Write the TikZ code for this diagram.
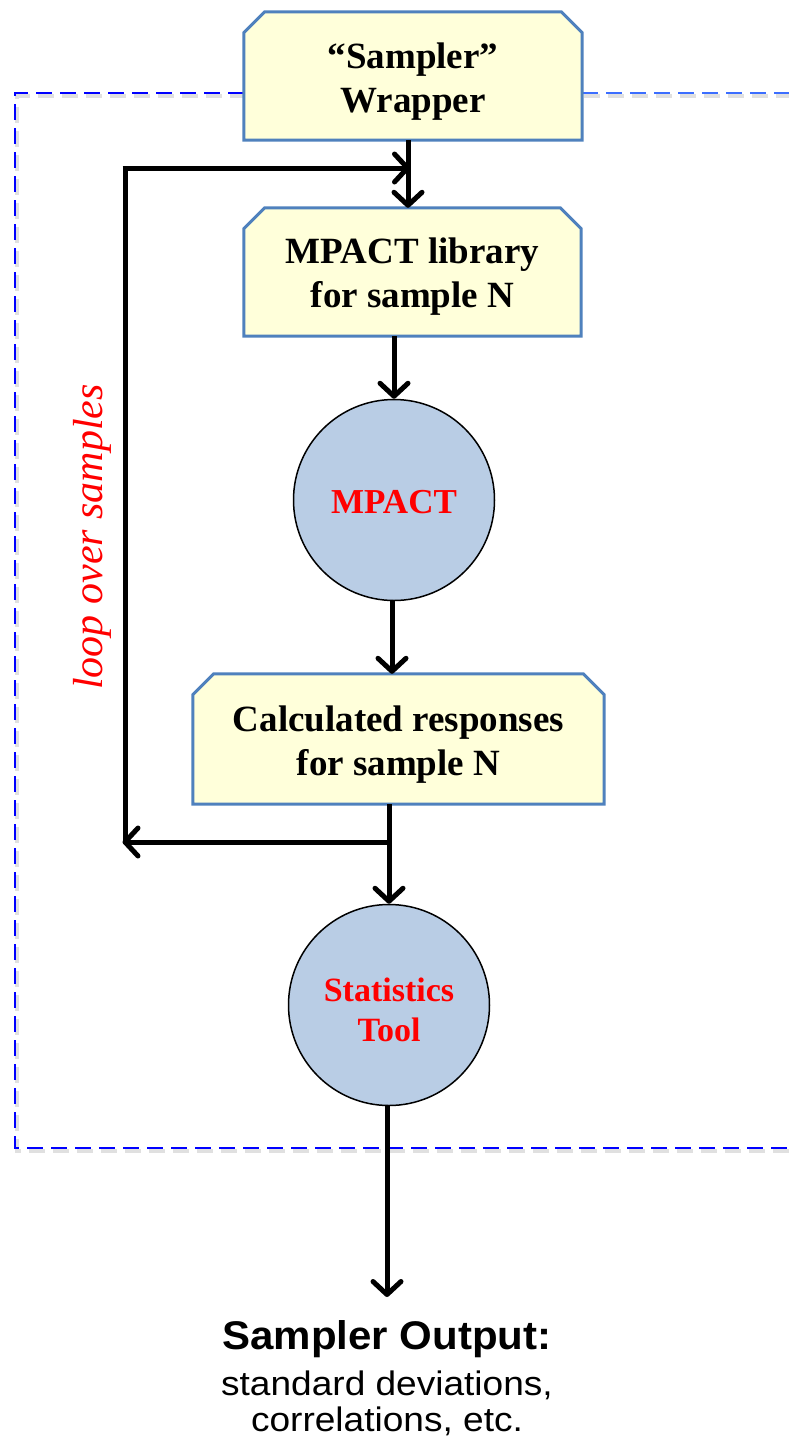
\documentclass[tikz,border=0pt]{standalone}
\usepackage{fontspec}
\setmainfont{Liberation Serif}
\newfontfamily\sansf{Liberation Sans}
\usetikzlibrary{arrows.meta,calc,backgrounds}
\definecolor{boxfill}{RGB}{255,255,218}
\definecolor{boxline}{RGB}{79,129,189}
\definecolor{circfill}{RGB}{185,205,229}
\definecolor{frameblue}{RGB}{0,0,255}
\definecolor{frameblue2}{RGB}{60,110,255}
\tikzset{
  boxshape/.style={inner sep=0pt},
  boxtext/.style={inner sep=0pt, align=center, font=\fontsize{37}{44}\selectfont\bfseries},
  chamf/.style={draw=boxline, fill=boxfill, line width=3pt, line join=miter},
  circ/.style={circle, draw=black, line width=1.5pt, fill=circfill, minimum size=201pt, inner sep=0pt},
  circtext/.style={inner sep=0pt, align=center, text=red, font=\fontsize{35}{40}\selectfont\bfseries},
  flow/.style={line width=5pt, draw=black},
  arr/.style={flow, -{Straight Barb[length=13pt,width=28pt,round]}},
  frame/.style={draw=frameblue, line width=2.5pt, dash pattern=on 16pt off 8pt},
  frameshadow/.style={draw=black!12, line width=3.5pt, dash pattern=on 16pt off 8pt},
  outtext/.style={anchor=base, inner sep=0pt},
}
\newcommand\chbox[2]{%
  \path[chamf] (#1.south west) -- ($(#1.north west)+(0,#2)$) -- ($(#1.north west)+(#2,0)$)
    -- ($(#1.north east)+(-#2,0)$) -- ($(#1.north east)+(0,#2)$) -- (#1.south east) -- cycle;}
\begin{document}
\begin{tikzpicture}[x=1pt,y=-1pt]
\useasboundingbox (0,0) rectangle (788,1443);
% boxes and circles
\node[boxshape, minimum width=338pt, minimum height=128pt] (wrap) at (413,76) {};
\node[boxtext] (wrapT) at ([yshift=-6pt]wrap.center) {“Sampler”\\Wrapper};
\node[boxshape, minimum width=337pt, minimum height=128pt] (lib) at (412.5,272) {};
\node[boxtext] (libT) at ([yshift=-5pt]lib.center) {MPACT library\\for sample N};
\node[boxshape, minimum width=411pt, minimum height=130pt] (calc) at (398.5,739) {};
\node[boxtext] (calcT) at ([yshift=-6pt]calc.center) {Calculated responses\\for sample N};
\node[circ] (mpact) at (394,500) {};
\node[circtext] (mpactT) at ([yshift=-2pt]mpact.center) {MPACT};
\node[circ] (stat) at (389,1005) {};
\node[circtext, font=\fontsize{34}{40}\selectfont\bfseries] (statT) at ([yshift=-5pt]stat.center) {Statistics\\Tool};
% output text
\node[outtext, font=\sansf\fontsize{40}{44}\selectfont\bfseries] (out) at (387,1349) {\scalebox{1.05}[1]{Sampler Output:}};
\node[outtext, font=\sansf\fontsize{34}{38}\selectfont] (out2) at (387,1395) {\scalebox{1.09}[1]{standard deviations,}};
\node[outtext, font=\sansf\fontsize{34}{38}\selectfont] (out3) at (387,1431) {\scalebox{1.09}[1]{correlations, etc.}};
% loop label
\node[rotate=90, text=red, font=\fontsize{42}{48}\selectfont\itshape, inner sep=0pt] (loop) at (92,537) {loop over samples};
% background: frame and box outlines
\begin{scope}[on background layer]
  \coordinate (ftl) at (15,93);
  \coordinate (fbl) at (15,1148);
  \coordinate (ftm) at (244,93);
  \coordinate (ftr) at (790,93);
  \coordinate (ftr2) at (575,93);
  \coordinate (fbr) at (790,1148);
  \draw[frameshadow] ([xshift=2pt,yshift=-3pt]ftm) -- ([xshift=2pt,yshift=-3pt]ftl) -- ([xshift=2pt,yshift=-3pt]fbl) -- ([xshift=2pt,yshift=-3pt]fbr);
  \draw[frameshadow] ([xshift=2pt,yshift=-3pt]ftr) -- ([xshift=2pt,yshift=-3pt]ftr2);
  \draw[frame] (ftm) -- (ftl) -- (fbl) -- (fbr);
  \draw[frame, draw=frameblue2] (ftr) -- (ftr2);
  \chbox{wrap}{21}
  \chbox{lib}{21}
  \chbox{calc}{21}
\end{scope}
% connectors
\coordinate (jt) at (410,168);
\coordinate (lt) at (125,168);
\coordinate (lb) at (125,842);
\coordinate (jb) at (389,842);
\draw[arr] ([xshift=-5pt]wrap.south) -- ([xshift=-4.5pt]lib.north);
\draw[flow] (lb) -- ([yshift=2.5pt]lt);
\draw[arr] ([xshift=-2.5pt]lt) -- (jt);
\draw[arr] (lib.south -| mpact.north) -- (mpact.north);
\draw[arr] ([xshift=-2pt]mpact.south) -- ([xshift=-2pt]calc.north -| mpact.south);
\draw[arr] (calc.south -| stat.north) -- (stat.north);
\draw[arr] ([xshift=2.5pt]jb) -- ([xshift=-2.5pt]lb);
\draw[arr] ([xshift=-2pt]stat.south) -- ([xshift=-2pt]stat.south |- 0,1297);
\end{tikzpicture}
\end{document}
